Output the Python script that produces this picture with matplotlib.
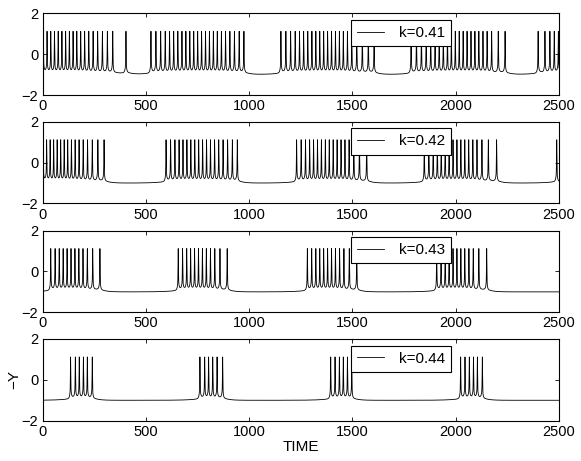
import numpy as np
import matplotlib
matplotlib.use('Agg')
import matplotlib.pyplot as plt

plt.rcParams['font.family'] = ['Liberation Sans', 'DejaVu Sans']

# ---- data: spike times per panel ----
labels = ['k=0.41', 'k=0.42', 'k=0.43', 'k=0.44']

spikes_041 = [4, 22, 40, 58, 76, 94, 112, 130, 148, 166, 185, 204, 224, 245, 267, 290, 314, 340, 404,
              525, 549, 572, 594, 615, 635, 655, 675, 694, 713, 732, 751, 770, 789, 808, 827, 846, 866,
              886, 907, 929, 952, 975,
              1154, 1178, 1201, 1223, 1244, 1264, 1284, 1304, 1323, 1342, 1361, 1380, 1399, 1418, 1437,
              1456, 1476, 1497, 1521, 1548, 1577, 1605,
              1784, 1810, 1834, 1857, 1879, 1900, 1920, 1940, 1960, 1979, 1998, 2017, 2036, 2055, 2074,
              2093, 2112, 2132, 2152, 2174, 2206, 2239,
              2399, 2432, 2456, 2477, 2497]

spikes_042 = [3, 20, 37, 54, 71, 88, 105, 122, 140, 158, 177, 197, 218, 241, 268, 298,
              598, 620, 641, 661, 680, 699, 718, 737, 756, 775, 794, 813, 833, 853, 874, 896, 919, 943,
              1230, 1252, 1273, 1293, 1312, 1331, 1350, 1369, 1388, 1407, 1426, 1445, 1464, 1484, 1507,
              1534, 1569,
              1848, 1870, 1891, 1911, 1930, 1949, 1968, 1987, 2006, 2025, 2044, 2063, 2083, 2103, 2127,
              2158, 2198,
              2489]

spikes_043 = [40, 61, 81, 100, 119, 138, 157, 176, 196, 217, 243, 278,
              657, 678, 698, 717, 736, 755, 774, 793, 813, 834, 859, 894,
              1282, 1303, 1323, 1342, 1361, 1380, 1399, 1418, 1438, 1459, 1485, 1521,
              1908, 1929, 1949, 1968, 1987, 2006, 2025, 2044, 2064, 2085, 2112, 2150]

spikes_044 = [136, 159, 178, 198, 217, 241,
              762, 785, 804, 824, 845, 872,
              1395, 1416, 1437, 1456, 1476, 1497,
              2024, 2045, 2066, 2086, 2105, 2129]

peak_level = 1.12
rest_level = -1.0

xticks = [0, 500, 1000, 1500, 2000, 2500]
yticks = [-2, 0, 2]
yticklabels = ['\u22122', '0', '2']

# ---- build traces from spike times ----
t = np.arange(0, 2500.01, 0.25)


def trace(spk):
    spk = np.asarray(spk, float)
    idx = np.searchsorted(spk, t)
    prev = np.where(idx > 0, spk[np.clip(idx - 1, 0, None)], -np.inf)
    nxt = np.where(idx < len(spk), spk[np.clip(idx, None, len(spk) - 1)], np.inf)
    base = (rest_level + 0.15 * np.exp(-(t - prev) / 25.0)
            + 0.15 * np.exp(-(nxt - t) / 6.0) + 0.08 * np.exp(-(nxt - t) / 50.0))
    v = base.copy()
    for s in spk:
        b = np.interp(s, t, base)
        d = t - s
        m = np.abs(d) < 30
        v[m] += (peak_level - b) * (0.65 * np.exp(-(d[m] / 1.3) ** 2) + 0.35 * np.exp(-np.abs(d[m]) / 2.5))
    return v


all_spikes = [spikes_041, spikes_042, spikes_043, spikes_044]

fig = plt.figure(figsize=(5.81, 4.61), dpi=100)
left, width, height = 42.5 / 581, 516.5 / 581, 81.7 / 461
bottoms_px = [95.0, 203.5, 312.3, 420.7]

for i, (spk, lab) in enumerate(zip(all_spikes, labels)):
    ax = fig.add_axes([left, 1 - bottoms_px[i] / 461, width, height])
    ax.plot(t, trace(spk), color='black', lw=0.6, label=lab)
    ax.set_xlim(0, 2500)
    ax.set_ylim(-2, 2)
    ax.set_xticks(xticks)
    ax.set_yticks(yticks)
    ax.set_yticklabels(yticklabels)
    ax.tick_params(direction='in', top=True, right=True, length=3, width=0.6,
                   labelsize=10.5, pad=3)
    for sp in ax.spines.values():
        sp.set_linewidth(0.8)
    leg = ax.legend(loc='upper left', bbox_to_anchor=(0.597, 0.92), borderaxespad=0,
                    fancybox=False, framealpha=1, edgecolor='black', fontsize=11,
                    handlelength=1.8, borderpad=0.4, handletextpad=0.95)
    leg.get_frame().set_linewidth(0.8)
    if i == 3:
        ax.set_xlabel('TIME', fontsize=11, labelpad=1)
        ax.set_ylabel('\u2212Y', fontsize=11, labelpad=0)

fig.savefig('out.png', dpi=100)
